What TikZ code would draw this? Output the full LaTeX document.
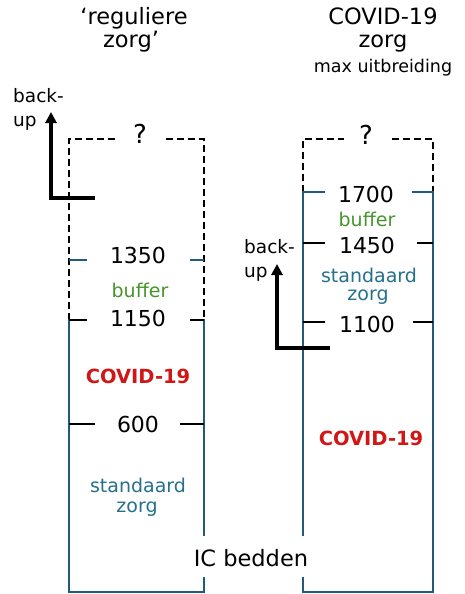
\documentclass[tikz,border=0pt]{standalone}
\usepackage{fontspec}
\setmainfont{DejaVu Sans}
\usetikzlibrary{arrows.meta}
\definecolor{boxblue}{RGB}{32,92,122}
\definecolor{zorgblue}{RGB}{38,112,140}
\definecolor{bufgreen}{RGB}{72,148,44}
\definecolor{covred}{RGB}{208,22,22}
\tikzset{
  txt/.style={inner sep=0pt, anchor=base},
  num/.style={txt, font=\fontsize{22}{24}\selectfont},
  lab/.style={txt, font=\fontsize{19}{21}\selectfont},
  ttl/.style={txt, font=\fontsize{22.5}{24}\selectfont},
  bufl/.style={lab, text=bufgreen},
  stdl/.style={lab, text=zorgblue},
  covl/.style={txt, font=\fontsize{19.5}{21}\selectfont\bfseries, text=covred},
  bul/.style={inner sep=0pt, anchor=base west, font=\fontsize{18.5}{20}\selectfont},
  qm/.style={txt, font=\fontsize{26}{28}\selectfont},
  dashline/.style={draw=black, line width=1.8pt, dash pattern=on 7pt off 4pt},
  blueline/.style={draw=boxblue, line width=2.2pt},
  blacktick/.style={draw=black, line width=2.2pt},
  bluetick/.style={draw=boxblue, line width=2.2pt},
  backarrow/.style={draw=black, line width=4pt, -{Triangle[length=11pt,width=11pt]}},
}
\begin{document}
\begin{tikzpicture}[x=1pt,y=-1pt]
\useasboundingbox (0,0) rectangle (464,594);
% titles
\node[ttl] (t1a) at (134,25) {‘reguliere};
\node[ttl] (t1b) at (131,48) {zorg’};
\node[ttl] (t2a) at (383,25) {COVID-19};
\node[ttl] (t2b) at (383,48) {zorg};
\node[txt, font=\fontsize{17.5}{19}\selectfont] (t2c) at (383,72) {max uitbreiding};
% question marks
\node[qm] (q1) at (140,143) {?};
\node[qm] (q2) at (366,144) {?};
% left box
\draw[dashline] (69,320) -- (69,139) -- (115,139);
\draw[dashline] (166,139) -- (204,139) -- (204,320);
\draw[blueline] (69,319) -- (69,592) -- (204,592) -- (204,577);
\draw[blueline] (204,536) -- (204,319);
\draw[bluetick] (69,260) -- (87,260) (190,260) -- (204,260);
\draw[blacktick] (69,320) -- (87,320) (190,320) -- (204,320);
\draw[blacktick] (69,424) -- (95,424) (180,424) -- (204,424);
\node[num] (n1350) at (138,263) {1350};
\node[bufl] (b1) at (140,297) {buffer};
\node[num] (n1150) at (138,326) {1150};
\node[covl] (c1) at (138,383) {COVID-19};
\node[num] (n600) at (138,432) {600};
\node[stdl] (s1a) at (138,492) {standaard};
\node[stdl] (s1b) at (137,512) {zorg};
% right box
\draw[dashline] (303,192) -- (303,139) -- (344,139);
\draw[dashline] (392,139) -- (433,139) -- (433,192);
\draw[blueline] (303,191) -- (303,536);
\draw[blueline] (303,577) -- (303,592) -- (433,592) -- (433,191);
\draw[bluetick] (303,192) -- (325,192) (412,192) -- (433,192);
\draw[blacktick] (303,243) -- (325,243) (417,243) -- (433,243);
\draw[blacktick] (303,322) -- (325,322) (413,322) -- (433,322);
\node[num] (n1700) at (366,202) {1700};
\node[bufl] (b2) at (367,226) {buffer};
\node[num] (n1450) at (367,253) {1450};
\node[stdl] (s2a) at (369,282) {standaard};
\node[stdl] (s2b) at (368,300) {zorg};
\node[num] (n1100) at (367,332) {1100};
\node[covl] (c2) at (371,445) {COVID-19};
% IC bedden
\node[txt, font=\fontsize{22.5}{24}\selectfont] (ic) at (251,566) {IC bedden};
% back-up arrows
\node[bul] (bu1a) at (13,102) {back-};
\node[bul] (bu1b) at (13,126) {up};
\coordinate (a1s) at (95,198);
\coordinate (a1c) at (51,198);
\coordinate (a1e) at (51,112);
\draw[backarrow] (a1s) -- (a1c) -- (a1e);
\node[bul] (bu2a) at (244,253) {back-};
\node[bul] (bu2b) at (244,277) {up};
\coordinate (a2s) at (330,348);
\coordinate (a2c) at (277,348);
\coordinate (a2e) at (277,264);
\draw[backarrow] (a2s) -- (a2c) -- (a2e);
\end{tikzpicture}
\end{document}
